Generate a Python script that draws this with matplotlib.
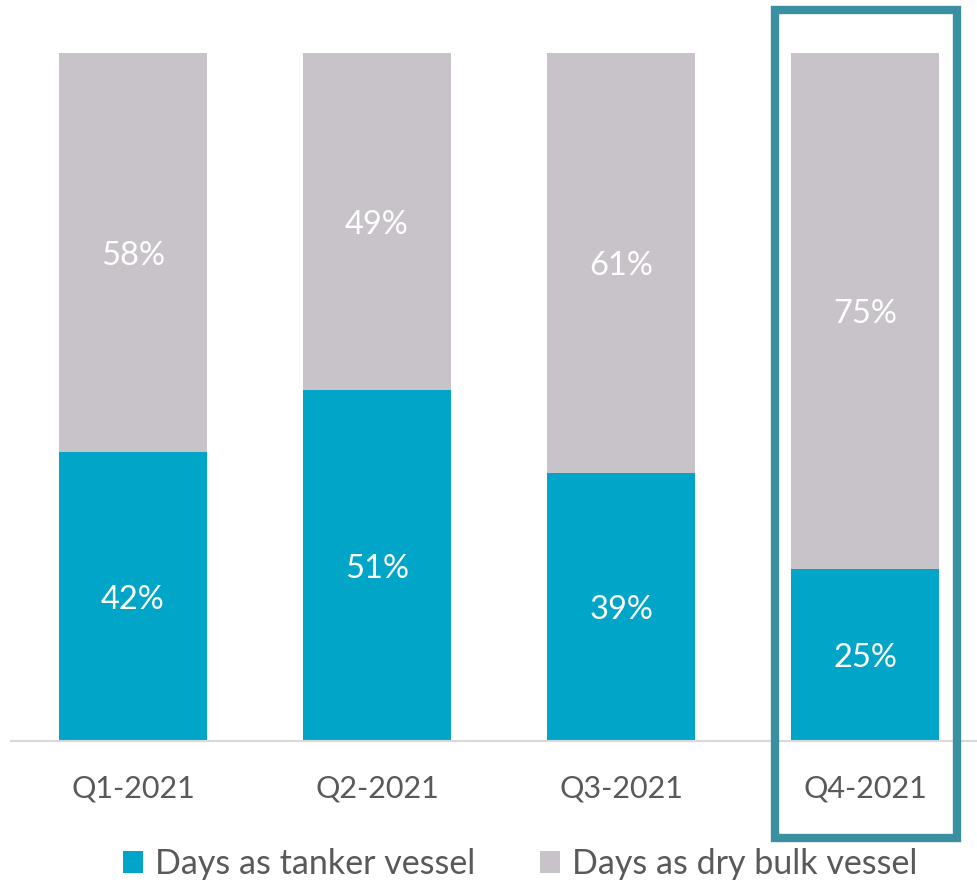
import numpy as np
import matplotlib.pyplot as plt
from matplotlib.patches import Rectangle

plt.rcParams['font.family'] = ['Lato', 'DejaVu Sans']

quarters = ['Q1-2021', 'Q2-2021', 'Q3-2021', 'Q4-2021']
tanker = [42, 51, 39, 25]
dry_bulk = [58, 49, 61, 75]

tanker_color = '#00A5C8'
bulk_color = '#C8C3C8'
text_color = '#595959'

fig = plt.figure(figsize=(9.77, 8.84), dpi=100)
ax = fig.add_axes([11 / 977, (884 - 741) / 884, 966 / 977, (741 - 53) / 884])

x = np.arange(len(quarters))
w = 0.607
b1 = ax.bar(x, tanker, w, color=tanker_color, label='Days as tanker vessel')
b2 = ax.bar(x, dry_bulk, w, bottom=tanker, color=bulk_color, label='Days as dry bulk vessel')

# value labels in the middle of each segment
for i in range(len(quarters)):
    ax.text(x[i], tanker[i] / 2 - 0.5, f'{tanker[i]}%', ha='center', va='center',
            color='white', fontsize=23.5)
    ax.text(x[i], tanker[i] + dry_bulk[i] / 2 - 0.5, f'{dry_bulk[i]}%', ha='center',
            va='center', color='white', fontsize=23.5)

ax.set_xlim(-0.5, 3.459)
ax.set_ylim(0, 100)
ax.set_yticks([])
ax.set_xticks(x)
ax.set_xticklabels(quarters, fontsize=22, color=text_color)
ax.tick_params(axis='x', length=0, pad=24)
for s in ['top', 'right', 'left']:
    ax.spines[s].set_visible(False)
ax.spines['bottom'].set_color('#D9D9D9')
ax.spines['bottom'].set_linewidth(1.5)

# highlight box around the last quarter
box = Rectangle((775 / 977, (884 - 838) / 884), 182 / 977, 828 / 884,
                transform=fig.transFigure, fill=False, edgecolor='#3A8FA0',
                linewidth=6)
fig.patches.append(box)

fig.legend(handles=[b1, b2], loc='center', bbox_to_anchor=(520 / 977, 1 - 864 / 884),
           ncol=2, frameon=False, fontsize=24.5, handlelength=0.6, handleheight=0.6,
           handletextpad=0.35, columnspacing=1.9, labelcolor=text_color)

fig.savefig('out.png', dpi=100)
